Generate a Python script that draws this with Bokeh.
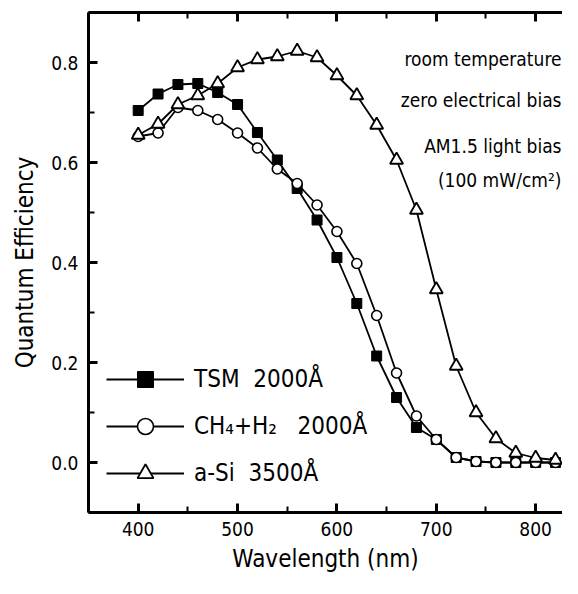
from bokeh.plotting import figure
from bokeh.models import (LinearAxis, Legend, LegendItem, Label, Range1d,
                          SingleIntervalTicker, PrintfTickFormatter, CustomLabelingPolicy)
from bokeh.embed import file_html
from bokeh.resources import INLINE

# ---- data ----
wavelength = [400, 420, 440, 460, 480, 500, 520, 540, 560, 580, 600,
              620, 640, 660, 680, 700, 720, 740, 760, 780, 800, 820]
tsm = [0.704, 0.737, 0.756, 0.758, 0.740, 0.716, 0.660, 0.605, 0.548, 0.485, 0.410,
       0.318, 0.213, 0.130, 0.070, 0.046, 0.010, 0.002, 0.000, 0.000, 0.000, 0.000]
ch4_h2 = [0.652, 0.659, 0.710, 0.704, 0.686, 0.659, 0.629, 0.587, 0.558, 0.515, 0.462,
          0.398, 0.294, 0.179, 0.093, 0.046, 0.010, 0.002, 0.000, 0.000, 0.000, 0.000]
a_si = [0.655, 0.677, 0.716, 0.734, 0.758, 0.790, 0.806, 0.812, 0.823, 0.810, 0.774,
        0.734, 0.675, 0.605, 0.505, 0.346, 0.193, 0.100, 0.048, 0.019, 0.009, 0.005]

series_labels = ["TSM  2000Å", "CH₄+H₂   2000Å", "a-Si  3500Å"]
notes = ["room temperature", "zero electrical bias", "AM1.5 light bias", "(100 mW/cm²)"]
note_y = [0.807, 0.725, 0.634, 0.566]

FONT = "'DejaVu Sans Condensed', 'DejaVu Sans', sans-serif"

p = figure(width=562, height=578, output_backend="svg", toolbar_location=None,
           x_range=Range1d(350, 827), y_range=Range1d(-0.1, 0.9),
           min_border_left=88, min_border_right=0, min_border_top=12, min_border_bottom=66,
           background_fill_color="white", border_fill_color="white")
p.outline_line_color = None
p.grid.visible = False

p.xaxis.ticker = SingleIntervalTicker(interval=100, num_minor_ticks=2)
p.yaxis.ticker = SingleIntervalTicker(interval=0.2, num_minor_ticks=2)
p.yaxis.formatter = PrintfTickFormatter(format="%.1f")

for ax in (p.xaxis[0], p.yaxis[0]):
    ax.axis_line_width = 3
    ax.axis_line_color = "black"
    ax.major_tick_in = 9
    ax.major_tick_out = 0
    ax.minor_tick_in = 6
    ax.minor_tick_out = 0
    ax.major_tick_line_width = 3
    ax.minor_tick_line_width = 2
    ax.major_label_text_font = FONT
    ax.major_label_text_font_size = "19px"
    ax.major_label_text_color = "black"
    ax.axis_label_text_font = FONT
    ax.axis_label_text_font_size = "24px"
    ax.axis_label_text_font_style = "normal"
    ax.axis_label_text_color = "black"

p.xaxis.axis_label = "Wavelength (nm)"
p.yaxis.axis_label = "Quantum Efficiency"
p.xaxis.major_label_standoff = 9
p.yaxis.major_label_standoff = 10
p.xaxis.axis_label_standoff = 6
p.yaxis.axis_label_standoff = 9

top = LinearAxis(ticker=SingleIntervalTicker(interval=100, num_minor_ticks=2))
top.axis_line_width = 3
top.major_tick_in = 9
top.major_tick_out = 0
top.minor_tick_in = 6
top.minor_tick_out = 0
top.major_tick_line_width = 3
top.minor_tick_line_width = 2
top.major_label_text_font_size = "1px"
top.major_label_standoff = 0
top.major_label_policy = CustomLabelingPolicy(
    code="for (const i of indices) { indices.unset(i) } return indices")
p.add_layout(top, "above")

# series
l1 = p.line(wavelength, tsm, line_color="black", line_width=1.8)
s1 = p.scatter(wavelength, tsm, marker="square", size=10, fill_color="black",
               line_color="black")
l2 = p.line(wavelength, ch4_h2, line_color="black", line_width=1.8)
s2 = p.scatter(wavelength, ch4_h2, marker="circle", size=10, fill_color="white",
               line_color="black", line_width=1.6)
l3 = p.line(wavelength, a_si, line_color="black", line_width=1.8)
s3 = p.scatter(wavelength, a_si, marker="triangle", size=13, fill_color="white",
               line_color="black", line_width=1.8)

legend = Legend(items=[LegendItem(label=series_labels[0], renderers=[l1, s1]),
                       LegendItem(label=series_labels[1], renderers=[l2, s2]),
                       LegendItem(label=series_labels[2], renderers=[l3, s3])],
                location=(18, 19), orientation="vertical")
legend.glyph_width = 78
legend.glyph_height = 40
legend.label_height = 40
legend.spacing = 7
legend.padding = 0
legend.margin = 0
legend.label_standoff = 10
legend.label_text_font = FONT
legend.label_text_font_size = "24px"
legend.label_text_color = "black"
legend.border_line_color = None
legend.background_fill_alpha = 0
p.add_layout(legend, "center")

for t, yv in zip(notes, note_y):
    p.add_layout(Label(x=826, y=yv, text=t, text_align="right", text_baseline="middle",
                       text_font=FONT, text_font_size="19px", text_color="black"))

open("out.html", "w").write(file_html(p, INLINE))
